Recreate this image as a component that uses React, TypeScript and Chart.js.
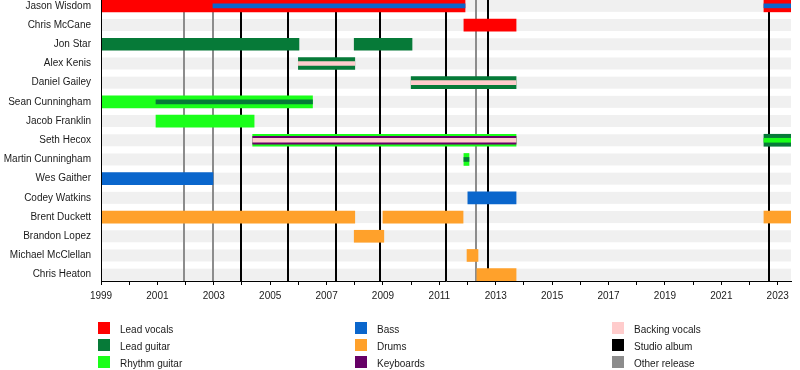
import { useEffect, useRef } from 'react';
import { Chart, registerables } from 'chart.js';

Chart.register(...registerables);

const members = [
  'Jason Wisdom',
  'Chris McCane',
  'Jon Star',
  'Alex Kenis',
  'Daniel Gailey',
  'Sean Cunningham',
  'Jacob Franklin',
  'Seth Hecox',
  'Martin Cunningham',
  'Wes Gaither',
  'Codey Watkins',
  'Brent Duckett',
  'Brandon Lopez',
  'Michael McClellan',
  'Chris Heaton',
];

const START = 1999;
const END = 2023.47;

type Span = [string, number, number];

// primary roles (full-height bars)
const leadVocals: Span[] = [
  ['Jason Wisdom', 1999, 2011.91],
  ['Jason Wisdom', 2022.51, END],
  ['Chris McCane', 2011.87, 2013.72],
];
const leadGuitar: Span[] = [
  ['Jon Star', 1999, 2006.02],
  ['Jon Star', 2007.98, 2010.03],
  ['Alex Kenis', 2006.0, 2008.0],
  ['Daniel Gailey', 2010.0, 2013.72],
  ['Seth Hecox', 2022.51, END],
];
const rhythmGuitar: Span[] = [
  ['Sean Cunningham', 1999, 2006.5],
  ['Jacob Franklin', 2000.95, 2004.43],
  ['Seth Hecox', 2004.38, 2013.72],
  ['Martin Cunningham', 2011.87, 2012.05],
];
const bass: Span[] = [
  ['Wes Gaither', 1999, 2002.97],
  ['Codey Watkins', 2012.01, 2013.72],
];
const drums: Span[] = [
  ['Brent Duckett', 1999, 2008.0],
  ['Brent Duckett', 2009.0, 2011.84],
  ['Brent Duckett', 2022.51, END],
  ['Brandon Lopez', 2007.98, 2009.03],
  ['Michael McClellan', 2011.98, 2012.37],
  ['Chris Heaton', 2012.33, 2013.72],
];

// secondary roles (stripes)
const bassStripe: Span[] = [
  ['Jason Wisdom', 2002.97, 2011.91],
  ['Jason Wisdom', 2022.51, END],
];
const leadGuitarStripe: Span[] = [
  ['Sean Cunningham', 2000.95, 2006.5],
  ['Martin Cunningham', 2011.87, 2012.05],
];
const rhythmGuitarStripe: Span[] = [['Seth Hecox', 2022.51, END]];
const keyboardsStripe: Span[] = [['Seth Hecox', 2004.38, 2013.72]];
const backingVocalsStripe: Span[] = [
  ['Alex Kenis', 2006.0, 2008.0],
  ['Daniel Gailey', 2010.0, 2013.72],
  ['Seth Hecox', 2004.38, 2013.72],
];

const studioAlbums = [2003.96, 2005.63, 2007.33, 2008.89, 2011.23, 2012.72, 2022.69];
const otherReleases = [2001.94, 2002.97, 2012.3];

const tickYears = [
  1999, 2000, 2001, 2002, 2003, 2004, 2005, 2006, 2007, 2008, 2009, 2010, 2011,
  2012, 2013, 2014, 2015, 2016, 2017, 2018, 2019, 2020, 2021, 2022, 2023,
];

const COLORS = {
  leadVocals: '#ff0000',
  leadGuitar: '#067a38',
  rhythmGuitar: '#1aff1a',
  bass: '#0a66cc',
  drums: '#ffa12b',
  keyboards: '#660066',
  backingVocals: '#ffcccc',
  studio: '#000000',
  other: '#8c8c8c',
};

const legendItems = [
  ['Lead vocals', COLORS.leadVocals],
  ['Lead guitar', COLORS.leadGuitar],
  ['Rhythm guitar', COLORS.rhythmGuitar],
  ['Bass', COLORS.bass],
  ['Drums', COLORS.drums],
  ['Keyboards', COLORS.keyboards],
  ['Backing vocals', COLORS.backingVocals],
  ['Studio album', COLORS.studio],
  ['Other release', COLORS.other],
];

const FONT = '"Liberation Sans", Arial, sans-serif';

function toData(spans: Span[]) {
  return spans.map(([name, a, b]) => ({ x: [a, b], y: members.indexOf(name) }));
}

function ds(label: string, spans: Span[], color: string, thickness: number, order: number) {
  return {
    label,
    data: toData(spans) as any,
    backgroundColor: color,
    borderWidth: 0,
    barThickness: thickness,
    grouped: false,
    order,
  };
}

const backdropPlugin = {
  id: 'backdrop',
  beforeDatasetsDraw(chart: any) {
    const { ctx, chartArea, scales } = chart;
    const x = scales.x;
    const y = scales.y;
    ctx.save();
    ctx.fillStyle = '#f0f0f0';
    const x0 = x.getPixelForValue(START) + 1;
    members.forEach((_, i) => {
      const yc = y.getPixelForValue(i);
      ctx.fillRect(x0, yc - 6, chartArea.right - x0, 12);
    });
    const drawLines = (vals: number[], color: string) => {
      ctx.strokeStyle = color;
      ctx.lineWidth = 2;
      vals.forEach((v) => {
        const px = Math.round(x.getPixelForValue(v));
        ctx.beginPath();
        ctx.moveTo(px, chartArea.top);
        ctx.lineTo(px, chartArea.bottom);
        ctx.stroke();
      });
    };
    drawLines(otherReleases, COLORS.other);
    drawLines(studioAlbums, COLORS.studio);
    ctx.restore();
  },
  afterDatasetsDraw(chart: any) {
    const { ctx, chartArea } = chart;
    ctx.save();
    ctx.strokeStyle = '#000';
    ctx.lineWidth = 1;
    const lx = Math.round(chartArea.left) + 0.5;
    ctx.beginPath();
    ctx.moveTo(lx, chartArea.top);
    ctx.lineTo(lx, chartArea.bottom);
    ctx.stroke();
    ctx.restore();
  },
};

export default function App() {
  const ref = useRef<HTMLCanvasElement | null>(null);

  useEffect(() => {
    document.body.style.margin = '0';
    if (!ref.current) return;
    const chart = new Chart(ref.current, {
      type: 'bar',
      data: {
        datasets: [
          ds('Bass (stripe)', bassStripe, COLORS.bass, 4, 1),
          ds('Lead guitar (stripe)', leadGuitarStripe, COLORS.leadGuitar, 4, 1),
          ds('Rhythm guitar (stripe)', rhythmGuitarStripe, COLORS.rhythmGuitar, 4, 1),
          ds('Backing vocals (stripe)', backingVocalsStripe, COLORS.backingVocals, 4, 1),
          ds('Keyboards (stripe)', keyboardsStripe, COLORS.keyboards, 8, 2),
          ds('Lead vocals', leadVocals, COLORS.leadVocals, 12, 3),
          ds('Lead guitar', leadGuitar, COLORS.leadGuitar, 12, 3),
          ds('Rhythm guitar', rhythmGuitar, COLORS.rhythmGuitar, 12, 3),
          ds('Bass', bass, COLORS.bass, 12, 3),
          ds('Drums', drums, COLORS.drums, 12, 3),
        ],
      },
      options: {
        indexAxis: 'y',
        animation: false,
        responsive: false,
        devicePixelRatio: 1,
        layout: { padding: { top: 0, right: 9, bottom: 0, left: 0 }, autoPadding: false },
        plugins: { legend: { display: false }, tooltip: { enabled: false } },
        scales: {
          x: {
            type: 'linear',
            min: START,
            max: END,
            offset: false,
            afterBuildTicks: (s: any) => {
              s.ticks = tickYears.map((v) => ({ value: v }));
            },
            afterFit: (s: any) => {
              s.height = 89;
              s.paddingLeft = 0;
              s.paddingRight = 0;
            },
            ticks: {
              autoSkip: false,
              maxRotation: 0,
              padding: 5,
              color: '#1a1a1a',
              font: { family: FONT, size: 10 },
              callback: (v: any) => (Number(v) % 2 === 1 ? String(v) : ''),
            },
            grid: { display: true, drawOnChartArea: false, tickLength: 4, color: '#000', offset: false },
            border: { display: true, color: '#000', width: 1 },
          },
          y: {
            type: 'linear',
            reverse: true,
            offset: false,
            min: -0.305,
            max: 14.33,
            afterBuildTicks: (s: any) => {
              s.ticks = members.map((_, i) => ({ value: i }));
            },
            afterFit: (s: any) => {
              s.width = 101;
              s.paddingTop = 0;
              s.paddingBottom = 0;
            },
            ticks: {
              autoSkip: false,
              padding: 10,
              color: '#1a1a1a',
              font: { family: FONT, size: 10 },
              callback: (v: any) => members[Number(v)] ?? '',
            },
            grid: { display: true, drawOnChartArea: false, drawTicks: false, offset: false },
            border: { display: false },
          },
        },
      } as any,
      plugins: [backdropPlugin],
    });
    return () => chart.destroy();
  }, []);

  const colX = [98, 355, 612];
  const rowY = [322, 339, 356];

  return (
    <div style={{ position: 'relative', width: 800, height: 370, overflow: 'hidden', background: '#fff' }}>
      <canvas ref={ref} width={800} height={370} style={{ display: 'block' }} />
      {legendItems.map(([label, color], i) => {
        const col = Math.floor(i / 3);
        const row = i % 3;
        return (
          <div
            key={label}
            style={{
              position: 'absolute',
              left: colX[col],
              top: rowY[row],
              height: 12,
              display: 'flex',
              alignItems: 'center',
              fontFamily: FONT,
              fontSize: 10,
              color: '#1a1a1a',
              whiteSpace: 'nowrap',
            }}
          >
            <span style={{ display: 'inline-block', width: 12, height: 12, background: color }} />
            <span style={{ marginLeft: 10, position: 'relative', top: 1 }}>{label}</span>
          </div>
        );
      })}
    </div>
  );
}
